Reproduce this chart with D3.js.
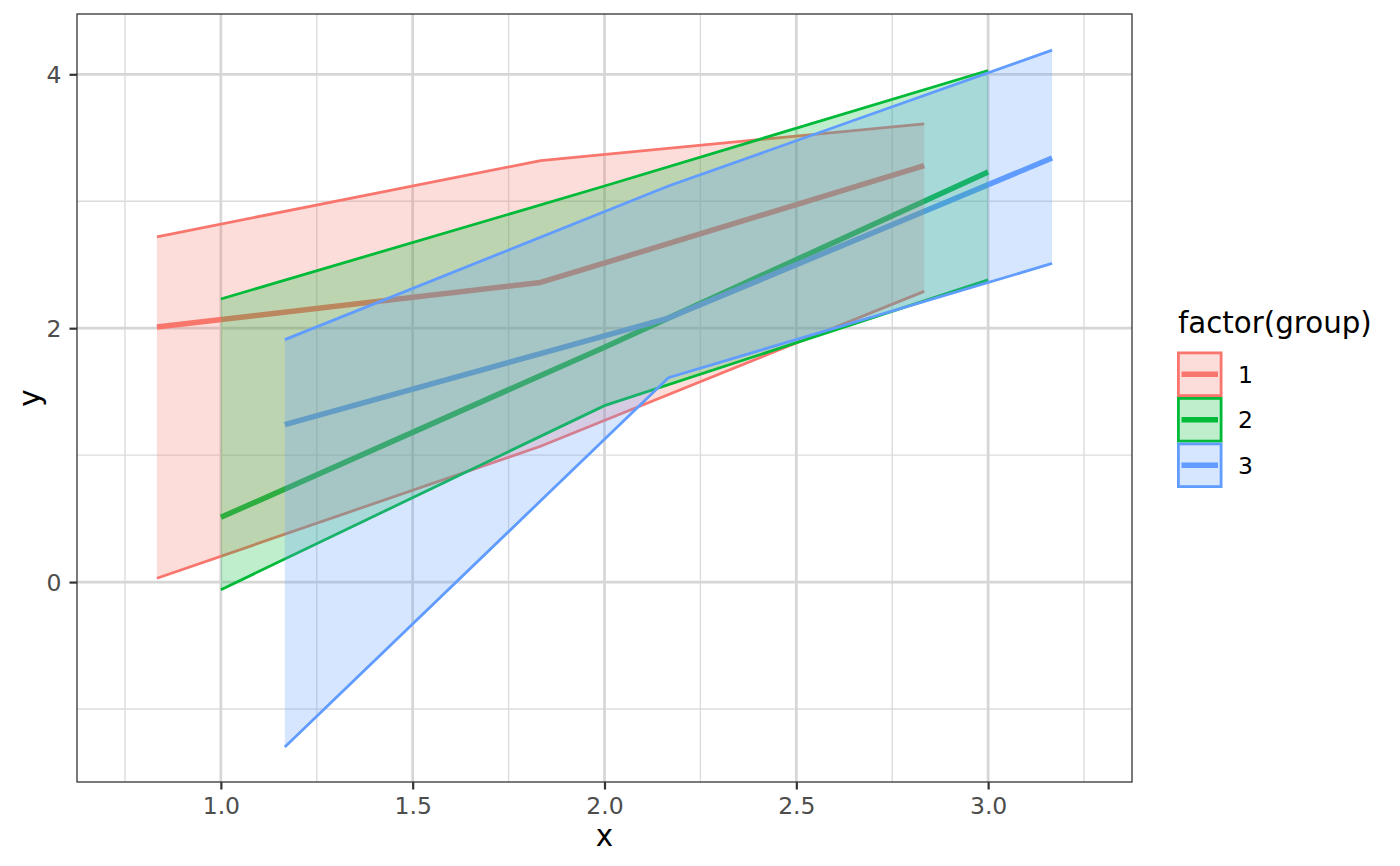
<!DOCTYPE html>
<html>
<head>
<meta charset="utf-8">
<script src="https://cdn.jsdelivr.net/npm/d3@7"></script>
<style>
  html, body { margin: 0; padding: 0; background: #fff; }
  svg { display: block; font-family: "DejaVu Sans", sans-serif; }
</style>
</head>
<body>
<svg id="chart" width="1400" height="866"></svg>
<script>
// ---- data ----
const groups = ["1", "2", "3"];
const colors = ["#F8766D", "#00BA38", "#619CFF"];

const x1 = [0.8333, 1.8333, 2.8333];
const y1 = [2.01, 2.36, 3.28];
const lo1 = [0.03, 1.07, 2.29];
const hi1 = [2.72, 3.32, 3.61];

const x2 = [1.0, 2.0, 3.0];
const y2 = [0.51, 1.85, 3.23];
const lo2 = [-0.06, 1.39, 2.38];
const hi2 = [2.23, 3.12, 4.03];

const x3 = [1.1667, 2.1667, 3.1667];
const y3 = [1.24, 2.08, 3.34];
const lo3 = [-1.30, 1.61, 2.51];
const hi3 = [1.91, 3.12, 4.19];

const xMajor = [1.0, 1.5, 2.0, 2.5, 3.0];
const xMinor = [0.75, 1.25, 1.75, 2.25, 2.75, 3.25];
const yMajor = [0, 2, 4];
const yMinor = [-1, 1, 3];

const xDomain = [0.625, 3.375];
const yDomain = [-1.575, 4.475];

// ---- build series ----
const series = groups.map((g, i) => {
  const xs = [x1, x2, x3][i], ys = [y1, y2, y3][i], los = [lo1, lo2, lo3][i], his = [hi1, hi2, hi3][i];
  return { group: g, color: colors[i], points: xs.map((x, j) => ({ x, y: ys[j], lo: los[j], hi: his[j] })) };
});

// ---- layout ----
const panel = { left: 77, right: 1132, top: 14, bottom: 782 };
const svg = d3.select("#chart");
const x = d3.scaleLinear().domain(xDomain).range([panel.left, panel.right]);
const y = d3.scaleLinear().domain(yDomain).range([panel.bottom, panel.top]);

svg.append("rect").attr("width", 1400).attr("height", 866).attr("fill", "#fff");

const clip = svg.append("clipPath").attr("id", "pclip").append("rect")
  .attr("x", panel.left).attr("y", panel.top)
  .attr("width", panel.right - panel.left).attr("height", panel.bottom - panel.top);

const grid = svg.append("g");
// minor grid
grid.selectAll(".vmin").data(xMinor).join("line")
  .attr("x1", d => x(d)).attr("x2", d => x(d)).attr("y1", panel.top).attr("y2", panel.bottom)
  .attr("stroke", "#dcdcdc").attr("stroke-width", 1.4);
grid.selectAll(".hmin").data(yMinor).join("line")
  .attr("y1", d => y(d)).attr("y2", d => y(d)).attr("x1", panel.left).attr("x2", panel.right)
  .attr("stroke", "#dcdcdc").attr("stroke-width", 1.4);
// major grid
grid.selectAll(".vmaj").data(xMajor).join("line")
  .attr("x1", d => x(d)).attr("x2", d => x(d)).attr("y1", panel.top).attr("y2", panel.bottom)
  .attr("stroke", "#d6d6d6").attr("stroke-width", 2.7);
grid.selectAll(".hmaj").data(yMajor).join("line")
  .attr("y1", d => y(d)).attr("y2", d => y(d)).attr("x1", panel.left).attr("x2", panel.right)
  .attr("stroke", "#d6d6d6").attr("stroke-width", 2.7);

const plot = svg.append("g").attr("clip-path", "url(#pclip)");

const lineGen = d3.line().x(d => x(d.x)).y(d => y(d.y));
const hiGen = d3.line().x(d => x(d.x)).y(d => y(d.hi));
const loGen = d3.line().x(d => x(d.x)).y(d => y(d.lo));
const areaGen = d3.area().x(d => x(d.x)).y0(d => y(d.lo)).y1(d => y(d.hi));

// thick lines first (underneath ribbons)
series.forEach(s => {
  plot.append("path").attr("d", lineGen(s.points))
    .attr("fill", "none").attr("stroke", s.color).attr("stroke-width", 5.5)
    .attr("stroke-linejoin", "round");
});
// ribbons per group: fill then outlines
series.forEach(s => {
  plot.append("path").attr("d", areaGen(s.points))
    .attr("fill", s.color).attr("fill-opacity", 0.25).attr("stroke", "none");
  plot.append("path").attr("d", hiGen(s.points))
    .attr("fill", "none").attr("stroke", s.color).attr("stroke-width", 2.8);
  plot.append("path").attr("d", loGen(s.points))
    .attr("fill", "none").attr("stroke", s.color).attr("stroke-width", 2.8);
});

// panel border
svg.append("rect")
  .attr("x", panel.left).attr("y", panel.top)
  .attr("width", panel.right - panel.left).attr("height", panel.bottom - panel.top)
  .attr("fill", "none").attr("stroke", "#333333").attr("stroke-width", 1.3);

// axes
const xAxis = d3.axisBottom(x).tickValues(xMajor).tickFormat(d3.format(".1f")).tickSize(7.5).tickPadding(5);
const yAxis = d3.axisLeft(y).tickValues(yMajor).tickFormat(d3.format("d")).tickSize(7.5).tickPadding(5);

const gx = svg.append("g").attr("transform", `translate(0,${panel.bottom})`).call(xAxis);
const gy = svg.append("g").attr("transform", `translate(${panel.left},0)`).call(yAxis);
[gx, gy].forEach(g => {
  g.select(".domain").remove();
  g.selectAll(".tick line").attr("stroke", "#333333").attr("stroke-width", 2.2);
  g.selectAll(".tick text").attr("fill", "#4d4d4d").attr("font-size", 23.5)
    .attr("font-family", "DejaVu Sans, sans-serif");
});
gx.selectAll(".tick text").attr("dy", null).attr("y", 32);
gy.selectAll(".tick text").attr("dy", "0.36em").attr("x", -15.5);

// axis titles
svg.append("text").text("x")
  .attr("x", (panel.left + panel.right) / 2).attr("y", 846)
  .attr("text-anchor", "middle").attr("font-size", 29.3).attr("fill", "#000");
svg.append("text").text("y")
  .attr("transform", `translate(40,${(panel.top + panel.bottom) / 2}) rotate(-90)`)
  .attr("text-anchor", "middle").attr("font-size", 29.3).attr("fill", "#000");

// legend
const leg = svg.append("g").attr("transform", "translate(1177,0)");
leg.append("text").text("factor(group)").attr("x", 1).attr("y", 333)
  .attr("font-size", 29.3).attr("fill", "#000");
const keySize = 45.5, keyTop = 351.5;
series.forEach((s, i) => {
  const ky = keyTop + i * keySize;
  leg.append("rect").attr("x", 1.4).attr("y", ky + 1.4)
    .attr("width", keySize - 2.8).attr("height", keySize - 2.8)
    .attr("fill", s.color).attr("fill-opacity", 0.25)
    .attr("stroke", s.color).attr("stroke-width", 2.8);
  leg.append("line").attr("x1", 4.5).attr("x2", keySize - 4.5)
    .attr("y1", ky + keySize / 2).attr("y2", ky + keySize / 2)
    .attr("stroke", s.color).attr("stroke-width", 5.5);
  leg.append("text").text(s.group).attr("x", 61).attr("y", ky + keySize / 2)
    .attr("dy", "0.36em").attr("font-size", 23.5).attr("fill", "#000");
});
</script>
</body>
</html>
